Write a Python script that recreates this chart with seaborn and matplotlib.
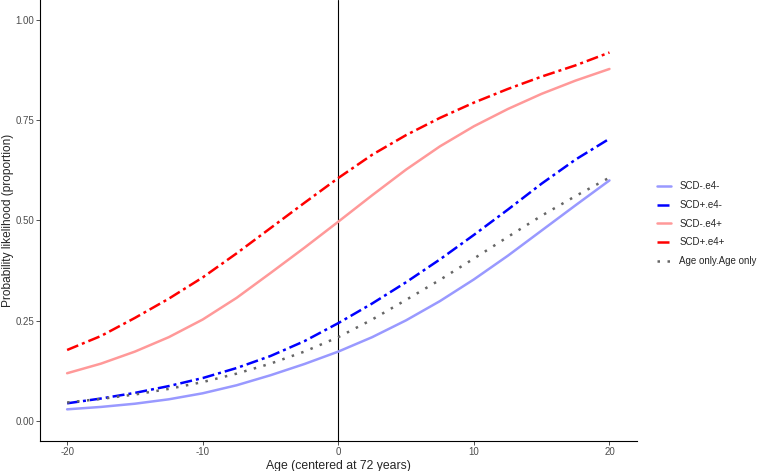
import seaborn as sns
import matplotlib.pyplot as plt
import pandas as pd

# Age centred at 72 years
ages = [-20, -17.5, -15, -12.5, -10, -7.5, -5, -2.5, 0,
        2.5, 5, 7.5, 10, 12.5, 15, 17.5, 20]

# predicted probability per group
scd_neg_e4_neg = [0.029, 0.035, 0.043, 0.054, 0.069, 0.089, 0.114, 0.142, 0.173,
                  0.209, 0.251, 0.299, 0.353, 0.412, 0.475, 0.538, 0.600]
scd_pos_e4_neg = [0.044, 0.056, 0.070, 0.087, 0.107, 0.132, 0.162, 0.199, 0.244,
                  0.293, 0.346, 0.403, 0.464, 0.527, 0.592, 0.652, 0.704]
scd_neg_e4_pos = [0.119, 0.143, 0.173, 0.209, 0.253, 0.307, 0.369, 0.432, 0.497,
                  0.563, 0.627, 0.685, 0.735, 0.778, 0.816, 0.849, 0.878]
scd_pos_e4_pos = [0.177, 0.212, 0.257, 0.305, 0.358, 0.418, 0.481, 0.544, 0.606,
                  0.664, 0.713, 0.756, 0.794, 0.828, 0.859, 0.887, 0.919]
age_only = [0.046, 0.055, 0.066, 0.080, 0.097, 0.118, 0.143, 0.173, 0.209,
            0.253, 0.302, 0.352, 0.405, 0.459, 0.512, 0.561, 0.607]

groups = ["SCD-.e4-", "SCD+.e4-", "SCD-.e4+", "SCD+.e4+", "Age only.Age only"]
series = [scd_neg_e4_neg, scd_pos_e4_neg, scd_neg_e4_pos, scd_pos_e4_pos, age_only]

colors = {
    "SCD-.e4-": "#9999FF",
    "SCD+.e4-": "#0000FF",
    "SCD-.e4+": "#FF9999",
    "SCD+.e4+": "#FF0000",
    "Age only.Age only": "#666666",
}
dashes = {
    "SCD-.e4-": "",
    "SCD+.e4-": (4.8, 1.6, 1.2, 1.6),
    "SCD-.e4+": "",
    "SCD+.e4+": (4.8, 1.6, 1.2, 1.6),
    "Age only.Age only": (1, 3),
}

rows = []
for g, vals in zip(groups, series):
    for a, p in zip(ages, vals):
        rows.append({"Age": a, "Prob": p, "Group": g})
df = pd.DataFrame(rows)

sns.set_style("ticks")
plt.rcParams["font.family"] = ["Liberation Sans", "DejaVu Sans"]
plt.rcParams["axes.unicode_minus"] = False

fig = plt.figure(figsize=(7.59, 4.71), dpi=100)
ax = fig.add_axes([0.0527, 0.0637, 0.786, 0.9363])

sns.lineplot(
    data=df, x="Age", y="Prob", hue="Group", style="Group",
    hue_order=groups, style_order=groups,
    palette=colors, dashes=dashes, linewidth=1.8, ax=ax,
)

ax.axvline(0, color="black", linewidth=0.8, zorder=0)

ax.set_xlim(-22, 22)
ax.set_ylim(-0.05, 1.05)
ax.set_xticks([-20, -10, 0, 10, 20])
ax.set_yticks([0, 0.25, 0.5, 0.75, 1.0])
ax.set_yticklabels(["0.00", "0.25", "0.50", "0.75", "1.00"])
ax.tick_params(labelsize=7, labelcolor="#4d4d4d", color="#333333",
               length=2.6, width=0.6, pad=1.8)
for side in ["top", "right"]:
    ax.spines[side].set_visible(False)
for side in ["left", "bottom"]:
    ax.spines[side].set_color("black")
    ax.spines[side].set_linewidth(0.8)

ax.set_xlabel("Age (centered at 72 years)", fontsize=8.8, labelpad=2)
ax.set_ylabel("Probability likelihood (proportion)", fontsize=8.6, labelpad=0.5)

handles, labels = ax.get_legend_handles_labels()
ax.legend(handles, labels, loc="center left", bbox_to_anchor=(0.866, 0.525),
          bbox_transform=fig.transFigure, frameon=False, fontsize=7,
          handlelength=1.45, labelspacing=0.9, handletextpad=0.8,
          borderpad=0, borderaxespad=0)

fig.savefig("out.png", dpi=100)
